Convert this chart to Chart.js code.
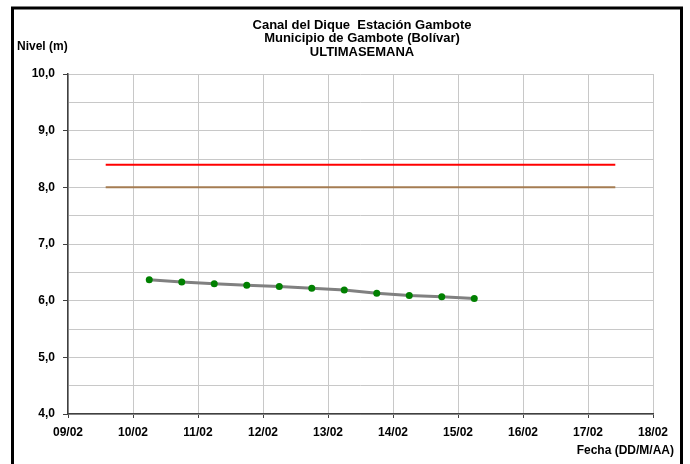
<!DOCTYPE html>
<html>
<head>
<meta charset="utf-8">
<script src="https://cdn.jsdelivr.net/npm/chart.js@4/dist/chart.umd.min.js"></script>
<style>
  html, body { margin: 0; padding: 0; background: #fff; }
  #wrap { width: 690px; height: 464px; position: relative; }
</style>
</head>
<body>
<div id="wrap"><canvas id="chart" width="690" height="464"></canvas></div>
<script>
// Canal del Dique - Gambote, ultima semana
const titleLines = ['Canal del Dique  Estación Gambote', 'Municipio de Gambote (Bolívar)', 'ULTIMASEMANA'];
const yTitle = 'Nivel (m)';
const xTitle = 'Fecha (DD/M/AA)';

// x as day of February (fraction = time of day)
const fechas = [10.25, 10.75, 11.25, 11.75, 12.25, 12.75, 13.25, 13.75, 14.25, 14.75, 15.25];
const niveles = [6.37, 6.33, 6.30, 6.27, 6.25, 6.22, 6.19, 6.13, 6.09, 6.07, 6.04];

// reference levels
const alertaX = [9.58, 17.42];
const alertaRoja = [8.4, 8.4];
const alertaNaranja = [8.0, 8.0];

const xTicks = [9, 10, 11, 12, 13, 14, 15, 16, 17, 18];

const toPts = (xs, ys) => xs.map((x, i) => ({ x: x, y: ys[i] }));
const fmtDay = d => String(d).padStart(2, '0') + '/02';

const FONT = 'Liberation Sans, Arial, sans-serif';

const decor = {
  id: 'decor',
  afterDraw(chart) {
    const ctx = chart.ctx;
    ctx.save();
    // outer frame
    ctx.strokeStyle = '#000';
    ctx.lineWidth = 3;
    ctx.strokeRect(12.5, 8, 669, 470);

    ctx.fillStyle = '#000';
    ctx.font = 'bold 13px ' + FONT;
    ctx.textAlign = 'center';
    ctx.textBaseline = 'middle';
    titleLines.forEach((t, i) => ctx.fillText(t, 362, 25 + i * 13.5));

    ctx.font = 'bold 12px ' + FONT;
    ctx.textAlign = 'left';
    ctx.fillText(yTitle, 17, 47);
    ctx.textAlign = 'right';
    ctx.fillText(xTitle, 674, 451);
    ctx.restore();
  }
};

const ctx = document.getElementById('chart').getContext('2d');
new Chart(ctx, {
  type: 'scatter',
  data: {
    datasets: [
      {
        data: toPts(alertaX, alertaRoja),
        showLine: true,
        borderColor: '#ff0000',
        borderWidth: 2,
        pointRadius: 0
      },
      {
        data: toPts(alertaX, alertaNaranja),
        showLine: true,
        borderColor: '#a57c52',
        borderWidth: 2,
        pointRadius: 0
      },
      {
        data: toPts(fechas, niveles),
        showLine: true,
        borderColor: '#808080',
        borderWidth: 3,
        pointRadius: 3.5,
        pointBackgroundColor: '#008000',
        pointBorderColor: '#008000',
        pointBorderWidth: 0
      }
    ]
  },
  options: {
    responsive: false,
    animation: false,
    events: [],
    layout: { padding: { left: 0, right: 37, top: 74, bottom: 0 } },
    plugins: {
      legend: { display: false },
      tooltip: { enabled: false },
      title: { display: false }
    },
    scales: {
      x: {
        type: 'linear',
        min: 9,
        max: 18,
        afterBuildTicks: axis => { axis.ticks = xTicks.map(v => ({ value: v })); },
        afterFit: axis => { axis.height = 50; },
        grid: { color: '#c8c8c8', lineWidth: 1, tickLength: 4, tickColor: '#404040' },
        border: { color: '#404040', width: 1.5 },
        ticks: {
          color: '#000',
          padding: 7,
          maxRotation: 0,
          font: { family: FONT, size: 12, weight: 'bold' },
          callback: v => fmtDay(v)
        }
      },
      y: {
        min: 4,
        max: 10,
        afterFit: axis => { axis.width = 68; },
        grid: {
          color: '#c8c8c8',
          lineWidth: 1,
          tickLength: 5,
          tickColor: c => (c.tick && Number.isInteger(c.tick.value)) ? '#404040' : 'rgba(0,0,0,0)'
        },
        border: { color: '#404040', width: 1.5 },
        ticks: {
          stepSize: 0.5,
          color: '#000',
          padding: 8,
          font: { family: FONT, size: 12, weight: 'bold' },
          callback: v => Number.isInteger(v) ? v.toFixed(1).replace('.', ',') : ''
        }
      }
    }
  },
  plugins: [decor]
});
</script>
</body>
</html>
